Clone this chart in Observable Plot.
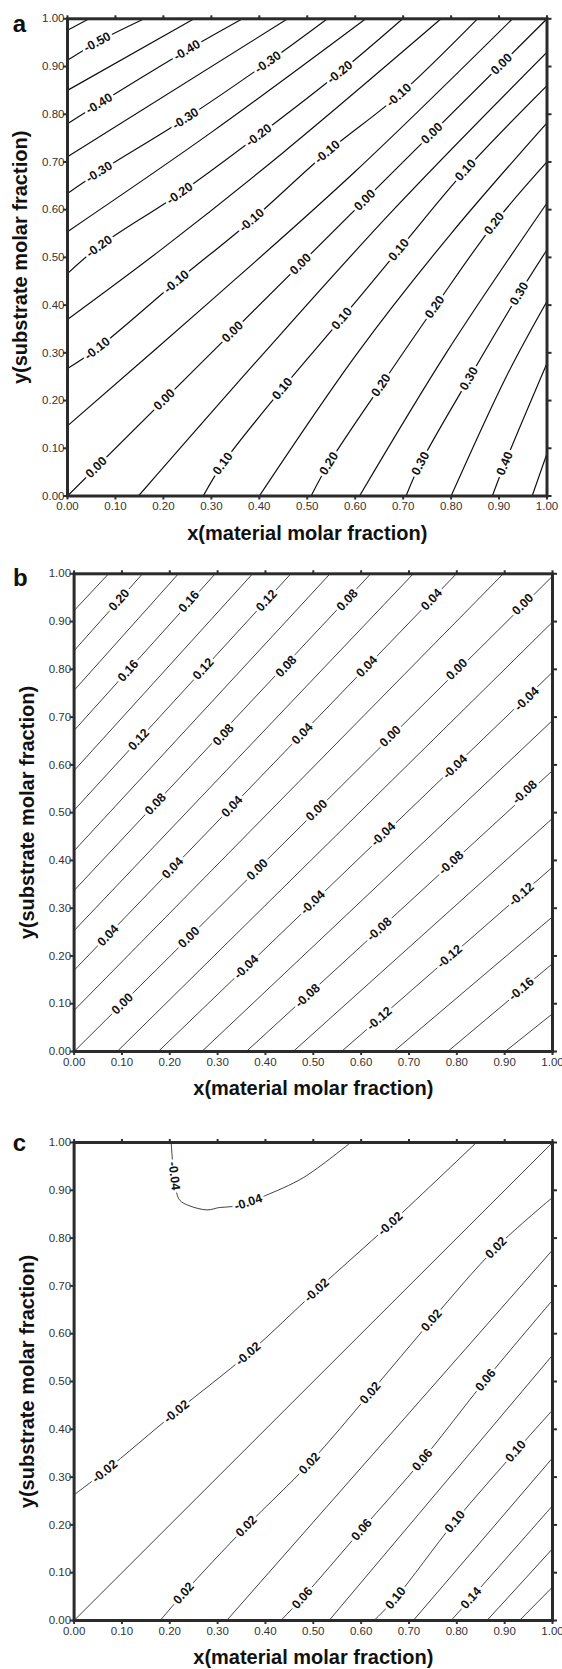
<!DOCTYPE html>
<html>
<head>
<meta charset="utf-8">
<script src="https://cdn.jsdelivr.net/npm/d3@7"></script>
<script src="https://cdn.jsdelivr.net/npm/@observablehq/plot@0.6"></script>
<style>
  body { margin: 0; background: #fff; }
  #chart svg { display: block; }
</style>
</head>
<body>
<div id="chart"></div>
<script>
// ---------- shared axis values ----------
const ticks = [0, 0.1, 0.2, 0.3, 0.4, 0.5, 0.6, 0.7, 0.8, 0.9, 1];
const xTitle = "x(material molar fraction)";
const yTitle = "y(substrate molar fraction)";

// ---------- panel a : contour levels, polylines [x, y], labels [x, y, level] ----------
const aLevels = [-0.55, -0.50, -0.45, -0.40, -0.35, -0.30, -0.25, -0.20, -0.15, -0.10, -0.05,
                 0.00, 0.05, 0.10, 0.15, 0.20, 0.25, 0.30, 0.35, 0.40, 0.45];
const aLines = [
  [[0,0.976],[0.045,1]],
  [[0,0.913],[0.062,0.951],[0.160,1]],
  [[0,0.850],[0.264,1]],
  [[0,0.780],[0.066,0.822],[0.249,0.934],[0.365,1]],
  [[0,0.711],[0.459,1]],
  [[0,0.634],[0.066,0.679],[0.246,0.791],[0.418,0.909],[0.542,1]],
  [[0,0.554],[0.30,0.762],[0.622,1]],
  [[0,0.466],[0.066,0.523],[0.234,0.634],[0.399,0.756],[0.568,0.888],[0.699,1]],
  [[0,0.370],[0.20,0.52],[0.45,0.72],[0.779,1]],
  [[0,0.267],[0.062,0.309],[0.227,0.449],[0.384,0.578],[0.542,0.721],[0.691,0.840],[0.855,1]],
  [[0,0.147],[0.30,0.41],[0.60,0.68],[0.928,1]],
  [[0,0],[0.5,0.5],[1,1]],
  [[0.148,0],[0.41,0.30],[0.68,0.60],[1,0.93]],
  [[0.283,0],[0.324,0.068],[0.448,0.225],[0.572,0.372],[0.691,0.516],[0.830,0.683],[1,0.86]],
  [[0.400,0],[0.605,0.30],[0.80,0.55],[1,0.782]],
  [[0.508,0],[0.545,0.068],[0.654,0.232],[0.766,0.396],[0.890,0.571],[1,0.70]],
  [[0.609,0],[0.79,0.30],[1,0.614]],
  [[0.706,0],[0.736,0.068],[0.837,0.246],[0.942,0.424],[1,0.516]],
  [[0.800,0],[0.915,0.25],[1,0.408]],
  [[0.886,0],[0.912,0.068],[1,0.278]],
  [[0.969,0],[1,0.089]]
];
const aLabels = [
  [0.062,0.951,-0.50],
  [0.249,0.934,-0.40],[0.066,0.822,-0.40],
  [0.418,0.909,-0.30],[0.246,0.791,-0.30],[0.066,0.679,-0.30],
  [0.568,0.888,-0.20],[0.399,0.756,-0.20],[0.234,0.634,-0.20],[0.066,0.523,-0.20],
  [0.691,0.840,-0.10],[0.542,0.721,-0.10],[0.384,0.578,-0.10],[0.227,0.449,-0.10],[0.062,0.309,-0.10],
  [0.905,0.905,0.00],[0.760,0.760,0.00],[0.620,0.620,0.00],[0.486,0.486,0.00],[0.344,0.344,0.00],[0.202,0.202,0.00],[0.060,0.060,0.00],
  [0.830,0.683,0.10],[0.691,0.516,0.10],[0.572,0.372,0.10],[0.448,0.225,0.10],[0.324,0.068,0.10],
  [0.890,0.571,0.20],[0.766,0.396,0.20],[0.654,0.232,0.20],[0.545,0.068,0.20],
  [0.942,0.424,0.30],[0.837,0.246,0.30],[0.736,0.068,0.30],
  [0.912,0.068,0.40]
];

// ---------- panel b ----------
const bLevels = [0.22, 0.20, 0.18, 0.16, 0.14, 0.12, 0.10, 0.08, 0.06, 0.04, 0.02, 0.00,
                 -0.02, -0.04, -0.06, -0.08, -0.10, -0.12, -0.14, -0.16, -0.18];
const bLines = [
  [[0,0.923],[0.072,1]],
  [[0,0.839],[0.143,1]],
  [[0,0.756],[0.218,1]],
  [[0,0.672],[0.295,1]],
  [[0,0.588],[0.373,1]],
  [[0,0.505],[0.453,1]],
  [[0,0.420],[0.535,1]],
  [[0,0.337],[0.620,1]],
  [[0,0.253],[0.709,1]],
  [[0,0.170],[0.799,1]],
  [[0,0.086],[0.897,1]],
  [[0,0],[1,0.995]],
  [[0.090,0],[1,0.899]],
  [[0.176,0],[1,0.794]],
  [[0.267,0],[1,0.693]],
  [[0.360,0],[1,0.588]],
  [[0.458,0],[1,0.488]],
  [[0.559,0],[1,0.386]],
  [[0.668,0],[1,0.282]],
  [[0.781,0],[1,0.184]],
  [[0.901,0],[1,0.079]]
];
const bLabels = [
  [0.094,0.945,0.20],[0.240,0.942,0.16],[0.402,0.944,0.12],[0.571,0.945,0.08],[0.747,0.946,0.04],[0.938,0.936,0.00],
  [0.113,0.797,0.16],[0.270,0.801,0.12],[0.443,0.806,0.08],[0.612,0.806,0.04],[0.800,0.800,0.00],[0.946,0.738,-0.04],
  [0.135,0.653,0.12],[0.312,0.663,0.08],[0.477,0.665,0.04],[0.661,0.660,0.00],[0.796,0.596,-0.04],[0.942,0.543,-0.08],
  [0.170,0.518,0.08],[0.330,0.513,0.04],[0.507,0.505,0.00],[0.646,0.455,-0.04],
  [0.206,0.384,0.04],[0.383,0.381,0.00],[0.788,0.395,-0.08],[0.935,0.329,-0.12],
  [0.499,0.312,-0.04],
  [0.071,0.243,0.04],[0.240,0.239,0.00],[0.638,0.256,-0.08],
  [0.360,0.177,-0.04],[0.785,0.199,-0.12],
  [0.935,0.131,-0.16],
  [0.101,0.100,0.00],[0.488,0.117,-0.08],
  [0.638,0.069,-0.12]
];

// ---------- panel c ----------
const cLevels = [-0.04, -0.02, 0.00, 0.02, 0.04, 0.06, 0.08, 0.10, 0.12, 0.14, 0.16, 0.18];
const cLines = [
  [[0.203,1],[0.205,0.97],[0.209,0.93],[0.214,0.896],[0.221,0.879],[0.240,0.868],[0.278,0.859],
   [0.304,0.864],[0.330,0.866],[0.364,0.875],[0.400,0.889],[0.480,0.927],[0.578,1]],
  [[0,0.263],[0.064,0.312],[0.214,0.437],[0.364,0.558],[0.507,0.691],[0.661,0.830],[0.841,1]],
  [[0,0],[1,1]],
  [[0.180,0],[0.229,0.057],[0.360,0.197],[0.492,0.329],[0.619,0.476],[0.747,0.628],[0.882,0.780],[1,0.885]],
  [[0.319,0],[1,0.775]],
  [[0.432,0],[0.477,0.047],[0.601,0.190],[0.728,0.336],[0.860,0.503],[1,0.67]],
  [[0.533,0],[1,0.555]],
  [[0.627,0],[0.672,0.047],[0.796,0.207],[0.923,0.354],[1,0.44]],
  [[0.709,0],[1,0.34]],
  [[0.788,0],[0.830,0.047],[1,0.24]],
  [[0.863,0],[1,0.15]],
  [[0.931,0],[1,0.07]]
];
const cLabels = [
  [0.209,0.93,-0.04],[0.364,0.875,-0.04],
  [0.064,0.312,-0.02],[0.214,0.437,-0.02],[0.364,0.558,-0.02],[0.507,0.691,-0.02],[0.661,0.830,-0.02],
  [0.229,0.057,0.02],[0.360,0.197,0.02],[0.492,0.329,0.02],[0.619,0.476,0.02],[0.747,0.628,0.02],[0.882,0.780,0.02],
  [0.477,0.047,0.06],[0.601,0.190,0.06],[0.728,0.336,0.06],[0.860,0.503,0.06],
  [0.672,0.047,0.10],[0.796,0.207,0.10],[0.923,0.354,0.10],
  [0.830,0.047,0.14]
];

// ---------- drawing ----------
const FONT = "'Liberation Sans', Arial, Helvetica, sans-serif";
const INK = "#2b2b2b";

function drawPanel(cfg) {
  const W = cfg.width - cfg.ml - cfg.mr;
  const H = cfg.height - cfg.mt - cfg.mb;
  const pts = [];
  cfg.levels.forEach((lv, i) => cfg.lines[i].forEach(([x, y], j) => pts.push({lv: i, j, x, y})));
  const labs = cfg.labels.map(([x, y, lv]) => {
    const line = cfg.lines[cfg.levels.indexOf(lv)];
    let k = 0, best = Infinity;
    line.forEach(([px, py], j) => {
      const d = (px - x) ** 2 + (py - y) ** 2;
      if (d < best) { best = d; k = j; }
    });
    const a = line[Math.max(k - 1, 0)], b = line[Math.min(k + 1, line.length - 1)];
    let ang = Math.atan2(-(b[1] - a[1]) * H, (b[0] - a[0]) * W) * 180 / Math.PI;
    if (ang > 90) ang -= 180;
    if (ang < -90) ang += 180;
    return {x, y, text: lv.toFixed(2), ang};
  });

  return Plot.plot({
    width: cfg.width,
    height: cfg.height,
    marginTop: cfg.mt, marginBottom: cfg.mb, marginLeft: cfg.ml, marginRight: cfg.mr,
    x: {domain: [0, 1], label: null},
    y: {domain: [0, 1], label: null},
    style: {fontFamily: FONT, background: "#fff", overflow: "visible"},
    marks: [
      Plot.line(pts, {x: "x", y: "y", z: "lv", curve: "catmull-rom", stroke: "#111",
                      strokeWidth: cfg.lw, clip: true}),
      Plot.text(labs, {x: "x", y: "y", text: "text", rotate: "ang", fontSize: 12.5,
                       fontWeight: "bold", fill: "#111", stroke: "#fff", strokeWidth: 5.5,
                       lineAnchor: "middle", textAnchor: "middle"}),
      Plot.axisX(ticks, {anchor: "bottom", tickSize: 4, tickPadding: 2, strokeWidth: 2,
                         tickFormat: d => d.toFixed(2), fontSize: 11.5, color: "#333", label: null}),
      Plot.axisX(ticks, {anchor: "top", tickSize: 4, strokeWidth: 2, tickFormat: () => "",
                         color: INK, label: null}),
      Plot.axisY(ticks, {anchor: "left", tickSize: 4, tickPadding: -1, strokeWidth: 2,
                         tickFormat: d => d.toFixed(2), fontSize: 11.5, color: "#333", label: null}),
      Plot.axisY(ticks, {anchor: "right", tickSize: 4, strokeWidth: 2, tickFormat: () => "",
                         color: INK, label: null}),
      Plot.frame({stroke: INK, strokeWidth: 3}),
      Plot.text([xTitle], {frameAnchor: "bottom", text: d => d, dy: 37.5, fontSize: 20,
                           fontWeight: "bold", fill: "#111", lineAnchor: "middle"}),
      Plot.text([yTitle], {frameAnchor: "left", text: d => d, dx: -47, rotate: -90, fontSize: 20,
                           fontWeight: "bold", fill: "#111", lineAnchor: "middle", textAnchor: "middle"}),
      Plot.text([cfg.letter], {frameAnchor: "top-left", text: d => d, dx: cfg.letterDx, dy: cfg.letterDy,
                               fontSize: 24, fontWeight: "bold", fill: "#111",
                               textAnchor: "middle", lineAnchor: "bottom"})
    ]
  });
}

const root = document.getElementById("chart");
root.append(drawPanel({
  letter: "a", levels: aLevels, lines: aLines, labels: aLabels,
  width: 562, height: 548, mt: 18.3, mb: 52.5, ml: 67, mr: 15.5, lw: 1.2,
  letterDx: -48, letterDy: 13.4
}));
root.append(drawPanel({
  letter: "b", levels: bLevels, lines: bLines, labels: bLabels,
  width: 562, height: 557, mt: 25.3, mb: 54, ml: 73.6, mr: 10, lw: 0.8,
  letterDx: -53.8, letterDy: 11.7
}));
root.append(drawPanel({
  letter: "c", levels: cLevels, lines: cLines, labels: cLabels,
  width: 562, height: 564, mt: 37, mb: 49, ml: 73.6, mr: 10, lw: 0.8,
  letterDx: -54.8, letterDy: 8
}));
</script>
</body>
</html>
